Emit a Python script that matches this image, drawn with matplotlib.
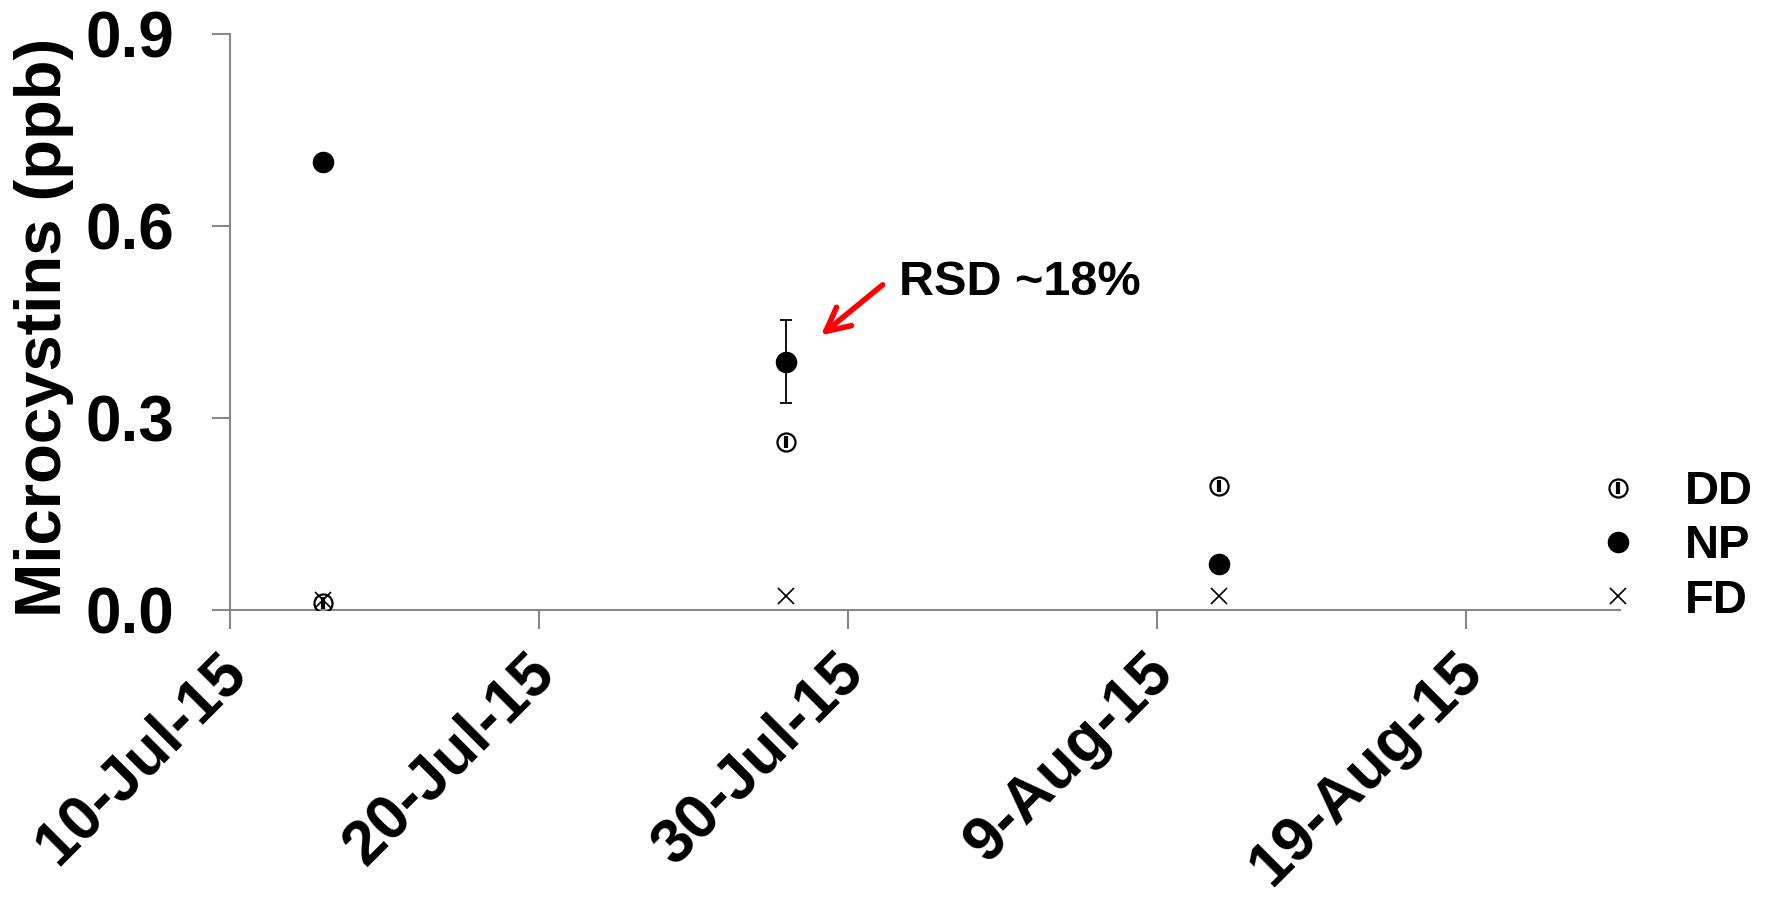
import matplotlib
matplotlib.use("Agg")
import matplotlib.pyplot as plt
import matplotlib.dates as mdates
from matplotlib.transforms import ScaledTranslation
from matplotlib.legend_handler import HandlerTuple
import datetime as dt

plt.rcParams['font.family'] = ['Liberation Sans', 'DejaVu Sans']
plt.rcParams['font.weight'] = 'bold'

# ---- data ----
sample_dates = [dt.date(2015, 7, 13), dt.date(2015, 7, 28), dt.date(2015, 8, 11)]
dd_values = [0.010, 0.263, 0.194]
np_values = [0.700, 0.388, 0.072]
np_errors = [0.0, 0.065, 0.0]
fd_values = [0.015, 0.021, 0.021]
series_labels = ["DD", "NP", "FD"]
y_ticks = [0.0, 0.3, 0.6, 0.9]
x_tick_dates = [dt.date(2015, 7, 10), dt.date(2015, 7, 20), dt.date(2015, 7, 30),
                dt.date(2015, 8, 9), dt.date(2015, 8, 19)]
x_limits = [dt.date(2015, 7, 10), dt.date(2015, 8, 24)]
annotation_text = "RSD ~18%"
arrow_head = (dt.datetime(2015, 7, 29, 3), 0.429)
arrow_tail = (dt.datetime(2015, 7, 31, 3), 0.508)
text_pos = (dt.datetime(2015, 7, 31, 16), 0.511)

# ---- figure ----
fig = plt.figure(figsize=(17.69, 8.98), dpi=100)
ax = fig.add_axes([0.130, 0.321, 0.786, 0.641])

xd = mdates.date2num(sample_dates)
h_dd_c, = ax.plot(xd, dd_values, linestyle='none', marker='o', markersize=13,
                  markerfacecolor='none', markeredgecolor='black', markeredgewidth=1.6,
                  zorder=3)
h_dd_b, = ax.plot(xd, dd_values, linestyle='none', marker='|', markersize=8,
                  color='black', markeredgewidth=3.0, zorder=3)
h_np, = ax.plot(xd, np_values, linestyle='none', marker='o', markersize=14.5,
                color='black', zorder=4)
err_x = [x for x, e in zip(xd, np_errors) if e > 0]
err_y = [v for v, e in zip(np_values, np_errors) if e > 0]
err_e = [e for e in np_errors if e > 0]
ax.errorbar(err_x, err_y, yerr=err_e, fmt='none', ecolor='black', elinewidth=1.3,
            capsize=4.5, capthick=1.3, zorder=4)
h_fd, = ax.plot(xd, fd_values, linestyle='none', marker='x', markersize=12,
                color='black', markeredgewidth=1.2, zorder=5)

ax.set_xlim(mdates.date2num(x_limits))
ax.set_ylim(0, 0.9)
ax.set_yticks(y_ticks)
ax.set_yticklabels([f"{v:.1f}" for v in y_ticks])
ax.set_xticks(mdates.date2num(x_tick_dates))
ax.set_xticklabels([f"{d.day}-{d.strftime('%b-%y')}" for d in x_tick_dates])

for s in ['top', 'right']:
    ax.spines[s].set_visible(False)
for s in ['left', 'bottom']:
    ax.spines[s].set_color('#888888')
    ax.spines[s].set_linewidth(1.5)

ax.tick_params(axis='y', direction='out', length=13, width=1.5, color='#888888',
               labelsize=46, pad=27)
ax.tick_params(axis='x', direction='out', length=13.5, width=1.5, color='#888888',
               labelsize=45, pad=6)
offset = ScaledTranslation(-0.14, -0.05, fig.dpi_scale_trans)
for lab in ax.get_xticklabels():
    lab.set_rotation(45)
    lab.set_ha('right')
    lab.set_va('top')
    lab.set_rotation_mode('anchor')
    lab.set_fontweight('bold')
    lab.set_transform(lab.get_transform() + offset)
for lab in ax.get_yticklabels():
    lab.set_fontweight('bold')

ax.set_ylabel("Microcystins (ppb)", fontsize=47, fontweight='bold')
ax.yaxis.set_label_coords(-0.112, 0.49)

# annotation with red arrow
ax.annotate('', xy=(mdates.date2num(arrow_head[0]), arrow_head[1]),
            xytext=(mdates.date2num(arrow_tail[0]), arrow_tail[1]),
            arrowprops=dict(arrowstyle='->,head_length=1.7,head_width=0.85',
                            color='red', lw=4, shrinkA=0, shrinkB=0))
ax.text(mdates.date2num(text_pos[0]), text_pos[1], annotation_text,
        fontsize=35, fontweight='bold', va='center', ha='left')

leg = ax.legend(handles=[(h_dd_c, h_dd_b), h_np, h_fd], labels=series_labels,
                handler_map={tuple: HandlerTuple(ndivide=1, pad=0)},
                loc='center left', bbox_to_anchor=(0.985, 0.11), frameon=False,
                fontsize=34, numpoints=1, handlelength=0.8, handletextpad=1.0,
                labelspacing=0.22, borderpad=0, borderaxespad=0)
for t in leg.get_texts():
    t.set_fontweight('bold')

fig.savefig("out.png", dpi=100)
